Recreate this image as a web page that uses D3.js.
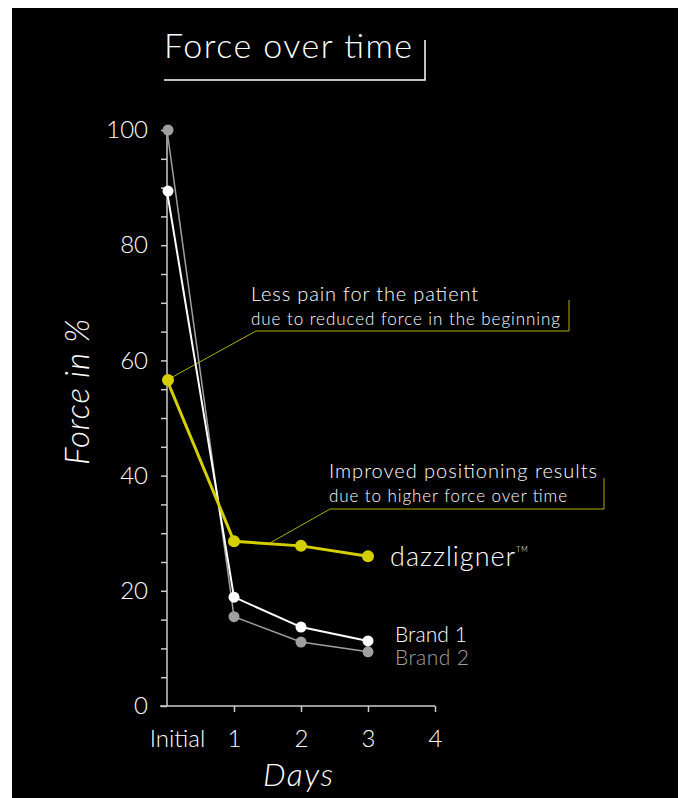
<!DOCTYPE html>
<html>
<head>
<meta charset="utf-8">
<script src="https://cdn.jsdelivr.net/npm/d3@7"></script>
<style>
  body { margin: 0; background: #fff; }
  svg text { font-family: "Lato", "Open Sans", sans-serif; font-weight: 300; }
</style>
</head>
<body>
<div class="chart"></div>
<script>
var svgWidth = 684;
var svgHeight = 798;

// data
var days = [0, 1, 2, 3];
var dayLabels = ["Initial", "1", "2", "3", "4"];
var brand2 = [100, 15.5, 11.1, 9.4];
var brand1 = [89.4, 18.9, 13.7, 11.3];
var dazz = [56.6, 28.6, 27.8, 26.0];

var yellow = "#d6cf00";
var callout = "#b3ac00";

var svg = d3.select(".chart")
  .append("svg")
  .attr("width", svgWidth)
  .attr("height", svgHeight);

// black panel
svg.append("rect")
  .attr("x", 12).attr("y", 8)
  .attr("width", 666).attr("height", 790)
  .attr("fill", "#000");

var x = d3.scaleLinear().domain([0, 4]).range([167, 435]);
var y = d3.scaleLinear().domain([0, 100]).range([706, 130]);

// title with bracket
svg.append("text")
  .attr("x", 164).attr("y", 58)
  .attr("fill", "#fff")
  .attr("font-size", 34)
  .attr("textLength", 248).attr("lengthAdjust", "spacing")
  .text("Force over time");
svg.append("path")
  .attr("d", "M164,80H425V40")
  .attr("fill", "none")
  .attr("stroke", "#fff")
  .attr("stroke-width", 1.5);

// axes
var yAxis = svg.append("g")
  .attr("transform", "translate(167,0)")
  .call(d3.axisLeft(y).tickValues(d3.range(0, 101, 5)).tickSize(6).tickFormat(""));
var yLabels = svg.append("g")
  .attr("transform", "translate(167,0)")
  .call(d3.axisLeft(y).tickValues([0, 20, 40, 60, 80, 100]).tickSize(0).tickPadding(19));

var xAxis = svg.append("g")
  .attr("transform", "translate(0,706)")
  .call(d3.axisBottom(x).tickValues([1, 2, 3, 4]).tickSize(6).tickFormat(""));
var xLabels = svg.append("g")
  .attr("transform", "translate(0,706)")
  .call(d3.axisBottom(x).tickValues([0, 1, 2, 3, 4]).tickSize(0).tickPadding(24)
    .tickFormat(d => dayLabels[d]));

[yAxis, yLabels, xAxis, xLabels].forEach(function(g) {
  g.select(".domain").remove();
  g.selectAll("line").attr("stroke", "#ccc").attr("stroke-width", 1.5);
  g.selectAll("text").attr("fill", "#fff").attr("font-size", 24)
    .attr("font-family", "Lato, sans-serif").attr("font-weight", 300);
});
xLabels.selectAll("text").filter(d => d === 0).attr("dx", 10);

svg.append("path")
  .attr("d", "M167," + y(100) + "V" + y(0) + "M160," + y(0) + "H" + x(4))
  .attr("fill", "none")
  .attr("stroke", "#ccc")
  .attr("stroke-width", 1.5);

// axis titles
svg.append("text")
  .attr("transform", "translate(89,392) rotate(-90)")
  .attr("text-anchor", "middle")
  .attr("fill", "#fff")
  .attr("font-size", 33)
  .attr("font-style", "italic")
  .attr("textLength", 146).attr("lengthAdjust", "spacing")
  .text("Force in %");
svg.append("text")
  .attr("x", 298).attr("y", 786)
  .attr("text-anchor", "middle")
  .attr("fill", "#fff")
  .attr("font-size", 32)
  .attr("font-style", "italic")
  .attr("textLength", 70).attr("lengthAdjust", "spacing")
  .text("Days");

// callouts
svg.append("path")
  .attr("d", "M" + x(0) + "," + y(dazz[0]) + "L256,331H569V300")
  .attr("fill", "none").attr("stroke", callout).attr("stroke-width", 1);
svg.append("path")
  .attr("d", "M270,543L330,509H604V478")
  .attr("fill", "none").attr("stroke", callout).attr("stroke-width", 1);

var notes = svg.append("g").attr("fill", "#fff");
notes.append("text").attr("x", 251).attr("y", 301).attr("font-size", 20)
  .attr("textLength", 227).attr("lengthAdjust", "spacing").text("Less pain for the patient");
notes.append("text").attr("x", 251).attr("y", 325).attr("font-size", 17)
  .attr("textLength", 309).attr("lengthAdjust", "spacing").text("due to reduced force in the beginning");
notes.append("text").attr("x", 329).attr("y", 478).attr("font-size", 20)
  .attr("textLength", 268).attr("lengthAdjust", "spacing").text("Improved positioning results");
notes.append("text").attr("x", 329).attr("y", 502).attr("font-size", 17)
  .attr("textLength", 238).attr("lengthAdjust", "spacing").text("due to higher force over time");

// series
var line = d3.line().x((d, i) => x(days[i])).y(d => y(d));

function drawSeries(values, color, width, r) {
  svg.append("path")
    .datum(values)
    .attr("d", line)
    .attr("fill", "none")
    .attr("stroke", color)
    .attr("stroke-width", width);
  svg.selectAll(null)
    .data(values)
    .enter()
    .append("circle")
    .attr("cx", (d, i) => x(days[i]) + (i === 0 ? 1 : 0))
    .attr("cy", d => y(d))
    .attr("r", r)
    .attr("fill", color);
}

drawSeries(brand2, "#a0a0a0", 1.5, 5.5);
drawSeries(brand1, "#fff", 2, 5.5);
drawSeries(dazz, yellow, 3, 6);

// series labels
svg.append("text").attr("x", 395).attr("y", 642).attr("fill", "#fff").attr("font-size", 21)
  .attr("textLength", 72).attr("lengthAdjust", "spacing").text("Brand 1");
svg.append("text").attr("x", 395).attr("y", 665).attr("fill", "#a0a0a0").attr("font-size", 21)
  .attr("textLength", 74).attr("lengthAdjust", "spacing").text("Brand 2");
var logo = svg.append("text").attr("x", 390).attr("y", 566).attr("fill", "#fff")
  .attr("font-size", 27).attr("font-weight", 200).attr("letter-spacing", 1);
logo.append("tspan").text("dazzligner");
logo.append("tspan").attr("font-size", 7).attr("dy", -14).text("TM");
</script>
</body>
</html>
